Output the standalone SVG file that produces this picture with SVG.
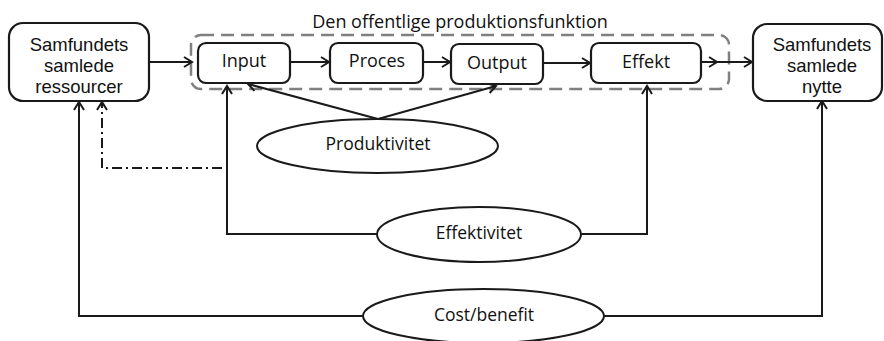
<svg xmlns="http://www.w3.org/2000/svg" width="884" height="341" viewBox="0 0 884 341">
<defs>
<style>
.box{fill:#fff;stroke:#1a1a1a;stroke-width:2.2}
.ell{fill:#fff;stroke:#1a1a1a;stroke-width:2}
.grp{fill:none;stroke:#808080;stroke-width:2.5;stroke-dasharray:13 7}
.ln{fill:none;stroke:#1a1a1a;stroke-width:2}
.dd{fill:none;stroke:#1a1a1a;stroke-width:2;stroke-dasharray:10 4 2 4}
.t{font-family:"Open Sans","Liberation Sans",sans-serif;font-size:18px;fill:#111;text-anchor:middle}
.tm{font-family:"Liberation Sans",Arial,sans-serif;font-size:18.5px;fill:#111;text-anchor:middle}
.te{font-family:"Open Sans","Liberation Sans",sans-serif;font-size:17.5px;fill:#111;text-anchor:middle}
</style>
<marker id="arr" markerUnits="userSpaceOnUse" markerWidth="12" markerHeight="14" refX="9" refY="6" orient="auto">
<path d="M1,1 L9,6 L1,11" fill="none" stroke="#1a1a1a" stroke-width="2"/>
</marker>
</defs>
<rect width="884" height="341" fill="#fff"/>

<g id="group-production">
<rect class="grp" x="191" y="35" width="538" height="54" rx="10"/>
<text class="t" x="460" y="28">Den offentlige produktionsfunktion</text>
</g>

<g id="connectors">
<path class="ln" d="M149,62 H192" marker-end="url(#arr)"/>
<path class="ln" d="M290,62 H329" marker-end="url(#arr)"/>
<path class="ln" d="M423,62 H450" marker-end="url(#arr)"/>
<path class="ln" d="M543,63 H590" marker-end="url(#arr)"/>
<path class="ln" d="M702,62 H717" marker-end="url(#arr)"/>
<path class="ln" d="M717,62 H752" marker-end="url(#arr)"/>
<path class="ln" d="M378,119 L248,84" marker-end="url(#arr)"/>
<path class="ln" d="M378,119 L496,86" marker-end="url(#arr)"/>
<path class="ln" d="M377,234 H227 V86" marker-end="url(#arr)"/>
<path class="ln" d="M581,234 H647 V86" marker-end="url(#arr)"/>
<path class="ln" d="M363,316 H79 V102" marker-end="url(#arr)"/>
<path class="ln" d="M604,316 H822 V101" marker-end="url(#arr)"/>
<path class="dd" d="M222,168 H102 V102" marker-end="url(#arr)"/>
</g>

<g id="node-ressourcer">
<rect class="box" x="9" y="23" width="140" height="78" rx="14"/>
<text class="tm" x="79" y="51">Samfundets</text>
<text class="tm" x="79" y="72">samlede</text>
<text class="tm" x="79" y="93">ressourcer</text>
</g>

<g id="node-input">
<rect class="box" x="198" y="43" width="92" height="40" rx="8"/>
<text class="t" x="244" y="67">Input</text>
</g>

<g id="node-proces">
<rect class="box" x="330" y="43" width="93" height="40" rx="8"/>
<text class="t" x="377" y="67">Proces</text>
</g>

<g id="node-output">
<rect class="box" x="451" y="44" width="92" height="40" rx="8"/>
<text class="t" x="497" y="69">Output</text>
</g>

<g id="node-effekt">
<rect class="box" x="591" y="43" width="110" height="40" rx="8"/>
<text class="t" x="646" y="68">Effekt</text>
</g>

<g id="node-nytte">
<rect class="box" x="753" y="24" width="129" height="77" rx="14"/>
<text class="tm" x="822" y="51">Samfundets</text>
<text class="tm" x="822" y="72">samlede</text>
<text class="tm" x="822" y="93">nytte</text>
</g>

<g id="node-produktivitet">
<ellipse class="ell" cx="377.5" cy="146" rx="120.5" ry="27"/>
<text class="te" x="378" y="150">Produktivitet</text>
</g>

<g id="node-effektivitet">
<ellipse class="ell" cx="479" cy="234.5" rx="102" ry="27.5"/>
<text class="te" x="479" y="239">Effektivitet</text>
</g>

<g id="node-costbenefit">
<ellipse class="ell" cx="483.5" cy="316" rx="120.5" ry="27"/>
<text class="te" x="484" y="321">Cost/benefit</text>
</g>
</svg>
